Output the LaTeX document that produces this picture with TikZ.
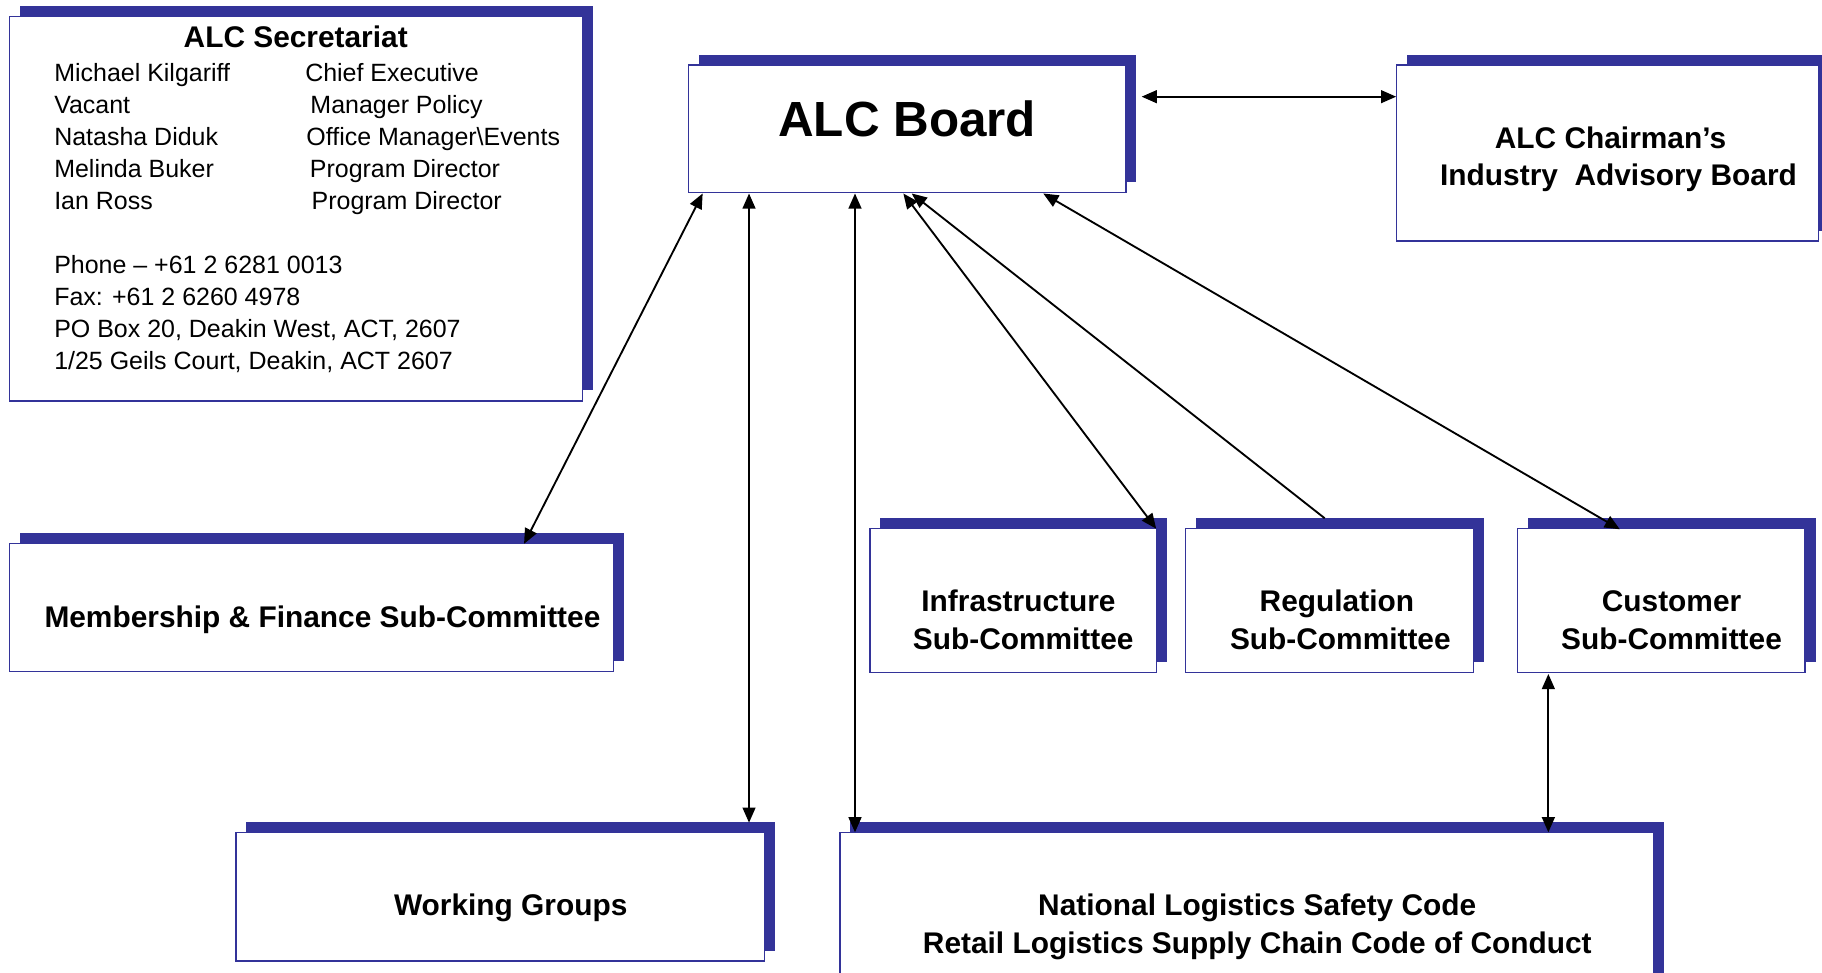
\documentclass[tikz,border=0pt]{standalone}
\usepackage{fontspec}
\setmainfont{Liberation Sans}
\usetikzlibrary{arrows.meta,calc,backgrounds}
\definecolor{alcblue}{RGB}{51,51,153}
\begin{document}
\begin{tikzpicture}[x=1pt,y=-1pt,
  >={Triangle[length=13pt,width=11pt]},
  box/.style={draw=alcblue,line width=1.1pt,fill=white,inner sep=0pt,outer sep=0pt,anchor=north west},
  btxt/.style={font=\fontsize{25.7}{32.3}\selectfont\bfseries,inner sep=0pt,anchor=base},
  rtxt/.style={font=\fontsize{21.5}{27.5}\selectfont,inner sep=0pt,anchor=base west},
  link/.style={line width=1.6pt}]
\useasboundingbox (0,0) rectangle (1568,837.33);
\clip (0,0) rectangle (1568,837.33);

% boxes
\node[box,minimum width=493.4pt,minimum height=330.7pt] (sec) at (8,14.3) {};
\node[box,minimum width=376.6pt,minimum height=109.5pt] (board) at (592.4,56) {};
\node[box,minimum width=363pt,minimum height=151.4pt] (adv) at (1202,56) {};
\node[box,minimum width=520pt,minimum height=110pt] (mem) at (8,468) {};
\node[box,minimum width=246.3pt,minimum height=124pt] (infra) at (748.7,455) {};
\node[box,minimum width=248pt,minimum height=124pt] (reg) at (1020,455) {};
\node[box,minimum width=247.3pt,minimum height=124pt] (cust) at (1306.1,455) {};
\node[box,minimum width=454.7pt,minimum height=110.5pt] (wg) at (203,716.5) {};
\node[box,minimum width=700pt,minimum height=160pt] (nat) at (722.9,716.3) {};

% shadows
\begin{scope}[on background layer]
\foreach \n in {sec,board,adv,mem,infra,reg,cust,wg,nat}
  \fill[alcblue] ($(\n.south west)+(9,-9)$) rectangle ($(\n.north east)+(9,-9)$);
\end{scope}

% secretariat text
\node[btxt] (secT) at (254.5,41) {ALC Secretariat};
\node[rtxt] (n1) at (46.5,70.3) {Michael Kilgariff};
\node[rtxt] (n2) at (46.5,97.8) {Vacant};
\node[rtxt] (n3) at (46.5,125.3) {Natasha Diduk};
\node[rtxt] (n4) at (46.5,152.8) {Melinda Buker};
\node[rtxt] (n5) at (46.5,180.3) {Ian Ross};
\node[rtxt] (r1) at (262.5,70.3) {Chief Executive};
\node[rtxt] (r2) at (267,97.8) {Manager Policy};
\node[rtxt] (r3) at (263.5,125.3) {Office Manager\textbackslash Events};
\node[rtxt] (r4) at (266.5,152.8) {Program Director};
\node[rtxt] (r5) at (268,180.3) {Program Director};
\node[rtxt] (c1) at (46.5,235.3) {Phone -- +61 2 6281 0013};
\node[rtxt] (c2) at (46.5,262.8) {Fax: +61 2 6260 4978};
\node[rtxt] (c3) at (46.5,290.3) {PO Box 20, Deakin West, ACT, 2607};
\node[rtxt] (c4) at (46.5,317.8) {1/25 Geils Court, Deakin, ACT 2607};

% box texts
\node[btxt,font=\fontsize{42.5}{50}\selectfont\bfseries] (boardT) at (780.7,117.6) {ALC Board};
\node[btxt] (advT1) at (1386,127.6) {ALC Chairman’s};
\node[btxt] (advT2) at (1392.9,159.8) {Industry~~Advisory Board};
\node[btxt] (memT) at (277.5,540) {Membership \& Finance Sub-Committee};
\node[btxt] (infraT1) at (876.5,526.4) {Infrastructure};
\node[btxt] (infraT2) at (880.6,558.7) {Sub-Committee};
\node[btxt] (regT1) at (1150.5,526.4) {Regulation};
\node[btxt] (regT2) at (1153.5,558.7) {Sub-Committee};
\node[btxt] (custT1) at (1438.5,526.4) {Customer};
\node[btxt] (custT2) at (1438.5,558.7) {Sub-Committee};
\node[btxt] (wgT) at (439.5,787.5) {Working Groups};
\node[btxt] (natT1) at (1082,787.5) {National Logistics Safety Code};
\node[btxt] (natT2) at (1082,820.5) {Retail Logistics Supply Chain Code of Conduct};

% connectors
\draw[link,<->] ($(board.north east)+(13.5,27.2)$) -- ($(adv.north west)+(-0.5,27.2)$);
\draw[link,<->] ($(board.south west)+(12.3,1)$) -- ($(mem.north west)+(443,0)$);
\draw[link,<->] ($(board.south west)+(52.2,1)$) -- ($(wg.north west)+(441.6,-8.5)$);
\draw[link,<->] ($(board.south west)+(143.4,1)$) -- ($(nat.north west)+(12.9,0)$);
\draw[link,<->] ($(board.south west)+(185,1)$) -- ($(infra.north east)+(0,0)$);
\draw[link,->] ($(reg.north west)+(120,-9)$) -- ($(board.south west)+(192.2,1)$);
\draw[link,<->] ($(board.south west)+(305.4,1)$) -- ($(cust.north west)+(87.9,0.5)$);
\draw[link,<->] ($(cust.south west)+(26.4,1)$) -- ($(nat.north west)+(609.6,0)$);
\end{tikzpicture}
\end{document}
